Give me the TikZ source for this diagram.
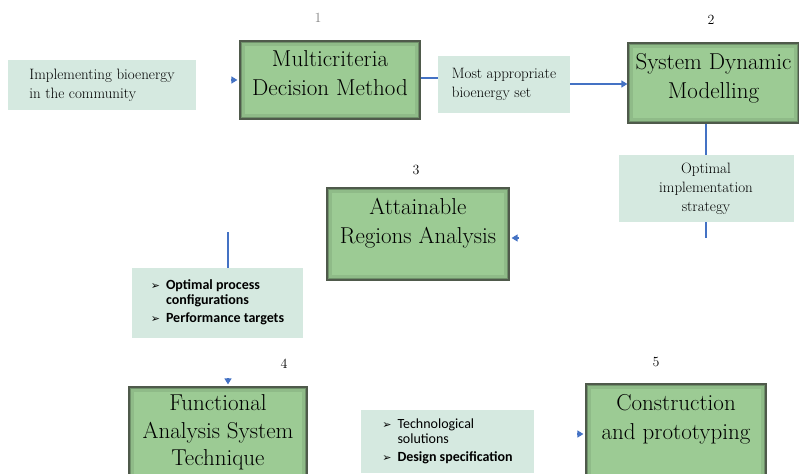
\documentclass[tikz,border=0pt]{standalone}
\usepackage{fontspec}
\usepackage{xcolor}
\usepackage{tikz}
\usetikzlibrary{arrows.meta}

\newfontfamily\listfont{Carlito}
\newfontfamily\dingfont{DejaVu Sans}

\definecolor{stagegreen}{HTML}{9CCB94}
\definecolor{notegreen}{HTML}{D5E9E0}
\definecolor{linkblue}{HTML}{4472C4}
\definecolor{stageedge}{HTML}{4F5A4B}

\newcommand{\arrowbullet}{{\dingfont\fontsize{11}{11}\selectfont ➢}}

\tikzset{
  stage/.style={draw=stageedge,line width=1.2pt,fill=stagegreen,inner sep=0pt,
    path picture={
      \draw[black,opacity=0.08,line width=10pt]
        (path picture bounding box.south west) rectangle (path picture bounding box.north east);
      \draw[black,opacity=0.22,line width=4pt]
        (path picture bounding box.south west) rectangle (path picture bounding box.north east);}},
  title/.style={font=\fontsize{23}{29}\selectfont,align=center,inner sep=0pt,anchor=north},
  note/.style={fill=notegreen,inner sep=0pt,align=left,font=\fontsize{15}{19}\selectfont},
  bullets/.style={fill=notegreen,inner sep=0pt,font=\listfont\fontsize{14}{15}\selectfont},
  num/.style={font=\fontsize{14}{14}\selectfont},
  link/.style={linkblue,line width=1.5pt},
  tip/.style={linkblue,line width=1.3pt,-{Triangle[length=6pt,width=7pt]},shorten >=2pt}
}

\begin{document}
\begin{tikzpicture}[x=1pt,y=-1pt]
  \useasboundingbox (0,0) rectangle (799,473);
  \clip (0,0) rectangle (799,473);

  % stages
  \node[stage,minimum width=180pt,minimum height=78pt] (mcdm) at (330,80) {};
  \node[title] (mcdmt) at ([yshift=-10pt]mcdm.north) {Multicriteria\\Decision Method};
  \node[stage,minimum width=171pt,minimum height=80pt] (sdm) at (713.5,83) {};
  \node[title] (sdmt) at ([yshift=-11pt]sdm.north) {System Dynamic\\Modelling};
  \node[stage,minimum width=182pt,minimum height=92pt] (ara) at (418,234) {};
  \node[title] (arat) at ([yshift=-11pt]ara.north) {Attainable\\Regions Analysis};
  \node[stage,minimum width=178pt,minimum height=100pt] (fast) at (218,437) {};
  \node[title,font=\fontsize{23}{27.5}\selectfont] (fastt) at ([yshift=-8pt]fast.north)
    {Functional\\Analysis System\\Technique};
  \node[stage,minimum width=180pt,minimum height=100pt] (build) at (676,434) {};
  \node[title] (buildt) at ([yshift=-11pt]build.north) {Construction\\and prototyping};

  % step numbers
  \node[num,gray] (n1) at (318,18) {1};
  \node[num] (n2) at (711,20) {2};
  \node[num] (n3) at (416,170) {3};
  \node[num] (n4) at (284,364) {4};
  \node[num] (n5) at (656,362) {5};

  % notes between the stages
  \node[note,minimum width=188pt,minimum height=50pt] (start) at (102,85)
    {Implementing bioenergy\\in the community};
  \node[note,minimum width=132pt,minimum height=57pt] (best) at (504,84.5)
    {Most appropriate\\bioenergy set};
  \node[note,align=center,minimum width=175pt,minimum height=67pt] (opt) at (706,188.5)
    {Optimal\\implementation\\strategy};
  \node[bullets,minimum width=171pt,minimum height=70pt] (proc) at (217.5,303)
    {\begin{tabular}{@{}l@{\hspace{6pt}}l@{}}
       \arrowbullet & \bfseries Optimal process\\
                    & \bfseries configurations\\[3pt]
       \arrowbullet & \bfseries Performance targets
     \end{tabular}};
  \node[bullets,minimum width=173pt,minimum height=63pt] (tech) at (447.5,441.5)
    {\begin{tabular}{@{}l@{\hspace{6pt}}l@{}}
       \arrowbullet & Technological\\
                    & solutions\\[3pt]
       \arrowbullet & \bfseries Design specification
     \end{tabular}};

  % connectors
  \coordinate (in1) at ([xshift=-8pt]mcdm.west);
  \draw[tip] (in1) -- (mcdm.west);
  \draw[link] ([yshift=2pt]mcdm.east) -- ([yshift=2pt]best.west |- mcdm.east);
  \draw[tip,shorten >=0pt] ([yshift=-1pt]best.east |- sdm.west) -- ([yshift=-1pt]sdm.west);
  \draw[link] (opt.north |- sdm.south) -- (opt.north);
  \coordinate (optend) at (706,238);
  \draw[link] (opt.south) -- (optend);
  \coordinate (in3) at ([xshift=9pt,yshift=-4pt]ara.east);
  \draw[tip] (in3) -- ([yshift=-4pt]ara.east);
  \coordinate (procend) at (228,232);
  \draw[link] (procend) -- (procend |- proc.north);
  \coordinate (in4) at (228,378);
  \draw[tip] (in4) -- (in4 |- fast.north);
  \coordinate (in5) at ([xshift=-8pt]build.west);
  \draw[tip] (in5) -- (build.west);
\end{tikzpicture}
\end{document}
